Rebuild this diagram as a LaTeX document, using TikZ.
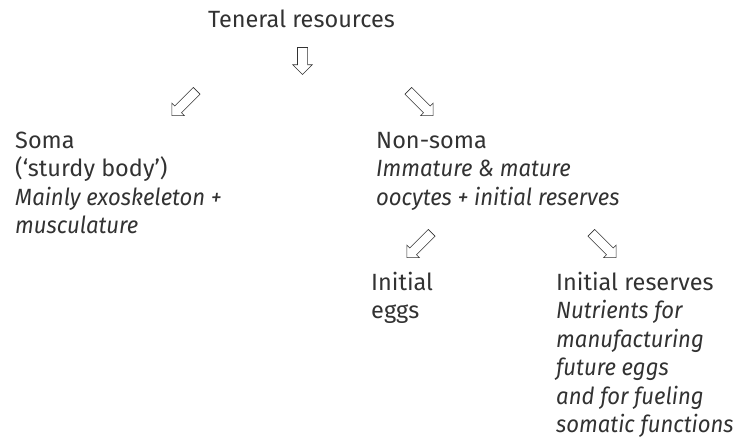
\documentclass[tikz,border=0pt]{standalone}
\usepackage{fontspec}
\setmainfont{Fira Sans}[ItalicFeatures={FakeStretch=0.94}]
\usetikzlibrary{shapes.arrows,positioning}
\definecolor{inkgray}{RGB}{50,50,50}
\tikzset{
plaintext/.style={inner sep=0pt,anchor=base west,align=left,text=inkgray,
  font=\fontsize{23.5}{28.5}\selectfont},
hollowarr/.style={single arrow,draw=inkgray,line width=0.6pt,fill=white,
  inner xsep=0pt,inner ysep=4.5pt,minimum height=35pt,
  single arrow head extend=4pt,single arrow tip angle=90},
}
\begin{document}
\begin{tikzpicture}[x=1pt,y=-1pt]
\useasboundingbox (0,0) rectangle (733,445);
\node[plaintext] (top) at (208,27) {Teneral resources};

\node[hollowarr,minimum height=27pt,inner ysep=4.75pt,
  single arrow head extend=4.75pt,rotate=-90] (a0) at (302.5,58.5) {};
\node[hollowarr,rotate=-135] (a1) at (186,101.5) {};
\node[hollowarr,rotate=-45] (a2) at (419,101.5) {};

% last baselines: text blocks hang from their first line
\node[plaintext] (soma) at (15,233.5) {Soma\\(`sturdy body')\\\textit{Mainly exoskeleton +}\\\textit{musculature}};
\node[plaintext] (nonsoma) at (376,205) {Non-soma\\\textit{Immature \& mature}\\\textit{oocytes + initial reserves}};

\node[hollowarr,rotate=-135] (a3) at (421,243.5) {};
\node[hollowarr,rotate=-45] (a4) at (602,243.5) {};

\node[plaintext] (eggs) at (371,318.5) {Initial\\eggs};
\node[plaintext] (reserves) at (556,432.5) {Initial reserves\\\textit{Nutrients for}\\\textit{manufacturing}\\\textit{future eggs}\\\textit{and for fueling}\\\textit{somatic functions}};
\end{tikzpicture}
\end{document}
